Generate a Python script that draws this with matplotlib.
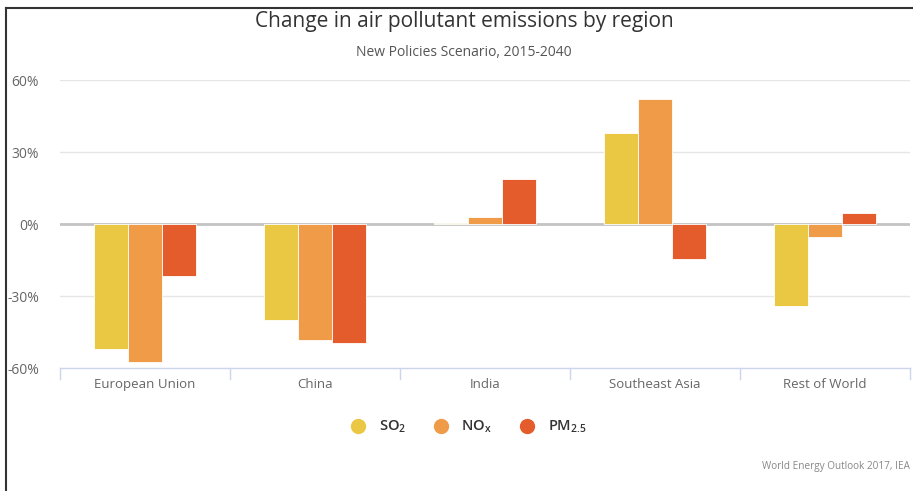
import matplotlib.pyplot as plt
import numpy as np

# dados
regioes = ["European Union", "China", "India", "Southeast Asia", "Rest of World"]
so2 = [-52, -40, 0.6, 38, -34]
nox = [-57.5, -48.5, 2.8, 52, -5.4]
pm25 = [-21.5, -49.5, 18.8, -14.6, 4.6]
yticks = [-60, -30, 0, 30, 60]
ytick_labels = ["-60%", "-30%", "0%", "30%", "60%"]

cores = ["#EAC843", "#F09B48", "#E45C2C"]
nomes = [r"SO$_\mathregular{2}$", r"NO$_\mathregular{x}$", r"PM$_\mathregular{2.5}$"]

plt.rcParams['font.family'] = ['Open Sans', 'DejaVu Sans']
plt.rcParams['mathtext.fontset'] = 'custom'
plt.rcParams['mathtext.rm'] = 'Open Sans'

fig = plt.figure(figsize=(9.13, 4.91), dpi=100)
ax = fig.add_axes([60 / 913, 1 - 368 / 491, 850 / 913, 288 / 491])

x = np.arange(len(regioes))
largura = 0.195
for i, serie in enumerate([so2, nox, pm25]):
    ax.bar(x + (i - 1) * 0.2, serie, width=largura, color=cores[i],
           edgecolor="white", linewidth=0.6, label=nomes[i], zorder=3)

ax.set_xlim(-0.5, len(regioes) - 0.5)
ax.set_ylim(-60, 60)
ax.set_yticks(yticks)
ax.set_yticklabels(ytick_labels, color="#666666", fontsize=10)
ax.set_xticks(x)
ax.set_xticklabels(regioes, color="#666666", fontsize=9.5)
ax.tick_params(axis="y", length=0, pad=15)
ax.tick_params(axis="x", length=0, pad=7)

# linhas de grade
for v in yticks[1:]:
    ax.axhline(v, color="#e6e6e6", linewidth=1, zorder=1)
ax.axhline(0, color="#c4c4c4", linewidth=2, zorder=2)
for s in ["top", "right", "left"]:
    ax.spines[s].set_visible(False)
ax.spines["bottom"].set_color("#ccd6eb")
ax.spines["bottom"].set_linewidth(1)
for b in np.arange(-0.5, len(regioes), 1):
    ax.plot([b, b], [-60, -64.5], color="#ccd6eb", linewidth=1, clip_on=False)

fig.text(464 / 913, 1 - 22 / 491, "Change in air pollutant emissions by region",
         ha="center", va="center", fontsize=15, color="#333333")
fig.text(464 / 913, 1 - 52 / 491, "New Policies Scenario, 2015-2040",
         ha="center", va="center", fontsize=10, color="#555555")
fig.text(910 / 913, 1 - 466 / 491, "World Energy Outlook 2017, IEA",
         ha="right", va="center", fontsize=7.2, color="#888888")

handles = [plt.Line2D([], [], marker="o", linestyle="", markersize=10,
                      color=c) for c in cores]
fig.legend(handles, nomes, loc="center", bbox_to_anchor=(465 / 913, 1 - 427 / 491),
           ncol=3, frameon=False, fontsize=10.5, handletextpad=0.4,
           columnspacing=1.4, labelcolor="#333333",
           prop={"weight": "semibold", "size": 10.5})

# moldura
fig.add_artist(plt.Line2D([6 / 913, 6 / 913], [0, 1 - 8 / 491], color="#333333",
                          linewidth=1.5))
fig.add_artist(plt.Line2D([6 / 913, 1], [1 - 8 / 491, 1 - 8 / 491], color="#333333",
                          linewidth=1.5))

fig.savefig("out.png", dpi=100)
